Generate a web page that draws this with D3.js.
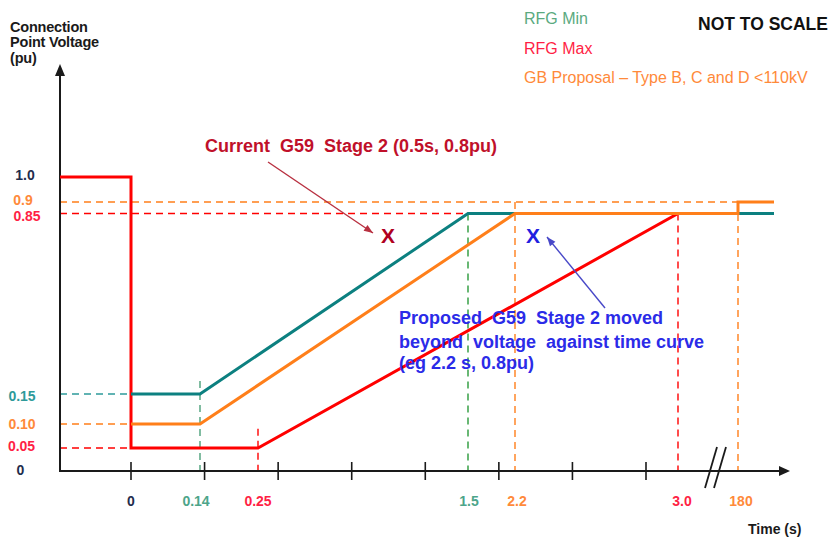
<!DOCTYPE html>
<html><head><meta charset="utf-8">
<script src="https://cdn.jsdelivr.net/npm/d3@7"></script>
<style>body{margin:0;background:#fff}svg{display:block}text{font-family:"Liberation Sans",Arial,sans-serif}</style>
</head><body><svg id="c" width="834" height="538"></svg>
<script>
// ---------------- data ----------------
const T_START = -0.2;   // axis origin (pre-fault)
const T_END = 200;      // right end of curves (beyond 180 s)
const timeKnots = [T_START, 0, 0.14, 0.25, 1.5, 2.2, 3.0, 180, T_END];
const voltKnots = [0, 0.05, 0.10, 0.15, 0.85, 0.9, 1.0];

const rfgMaxTime = [T_START, 0, 0, 0.25, 3.0, 180];
const rfgMaxVolt = [1.0, 1.0, 0.05, 0.05, 0.85, 0.85];
const rfgMinTime = [0, 0.14, 1.5, T_END];
const rfgMinVolt = [0.15, 0.15, 0.85, 0.85];
const gbTime = [0, 0.14, 2.2, 180, 180, T_END];
const gbVolt = [0.10, 0.10, 0.85, 0.85, 0.9, 0.9];

const xTickTimes = [0, 0.14, 0.25, 1.5, 2.2, 3.0, 180];
const xTickLabels = ["0", "0.14", "0.25", "1.5", "2.2", "3.0", "180"];
const yTickValues = [1.0, 0.9, 0.85, 0.15, 0.10, 0.05, 0];
const yTickLabels = ["1.0", "0.9", "0.85", "0.15", "0.10", "0.05", "0"];

const hRefVolt = [0.9, 0.85, 0.15, 0.10, 0.05];
const hRefEnd = [180, 1.5, 0, 0, 0];
const vRefTime = [0.14, 0.25, 1.5, 2.2, 3.0, 180];
const vRefTop = [0.2, 0.09, 0.85, 0.9, 0.85, 0.9];

const legendLabels = ["RFG Min", "RFG Max", "GB Proposal \u2013 Type B, C and D <110kV"];

// ---------------- layout / style ----------------
const C = {red: "#FF0000", teal: "#0C8080", orange: "#FF7F1A", green1: "#4CA07A", green2: "#2A9A3A",
  dark: "#1a1a1a", navy: "#1F2D4D", redTxt: "#FF1F45", orangeTxt: "#FF8A3A", tealTxt: "#2E9A9A", greenTxt: "#4DA58A"};
const xScale = d3.scaleLinear().domain(timeKnots).range([60, 131, 200, 258, 468, 515, 678, 738, 774]);
const yScale = d3.scaleLinear().domain(voltKnots).range([471, 448, 424, 394, 213.5, 202, 177]);

const svg = d3.select("#c");
svg.append("rect").attr("width", 834).attr("height", 538).attr("fill", "#fff");

// dashed reference lines
const hRefColor = [C.orange, C.red, C.tealTxt, C.orange, C.red];
hRefVolt.forEach((v, i) => {
  svg.append("line").attr("x1", xScale(T_START)).attr("x2", xScale(hRefEnd[i]))
    .attr("y1", yScale(v)).attr("y2", yScale(v))
    .attr("stroke", hRefColor[i]).attr("stroke-width", 1.4).attr("stroke-dasharray", "7,5");
});
const vRefColor = [C.green1, C.red, C.green2, C.orange, C.red, C.orange];
vRefTime.forEach((t, i) => {
  svg.append("line").attr("x1", xScale(t)).attr("x2", xScale(t))
    .attr("y1", yScale(vRefTop[i])).attr("y2", i === 0 ? yScale(0) + 6 : yScale(0))
    .attr("stroke", vRefColor[i]).attr("stroke-width", 1.4).attr("stroke-dasharray", "7,5");
});

// axes
const axisG = svg.append("g");
axisG.append("line").attr("x1", 60).attr("x2", 60).attr("y1", yScale(0)).attr("y2", 72)
  .attr("stroke", C.dark).attr("stroke-width", 2);
axisG.append("path").attr("d", "M60,64 L55,76 L65,76 Z").attr("fill", C.dark);
axisG.append("line").attr("x1", 59).attr("x2", 782).attr("y1", yScale(0)).attr("y2", yScale(0))
  .attr("stroke", C.dark).attr("stroke-width", 2);
axisG.append("path").attr("d", `M790,${yScale(0)} L779,${yScale(0) - 5} L779,${yScale(0) + 5} Z`).attr("fill", C.dark);
const tickScale = d3.scaleLinear().domain([0, 7]).range([131, 646]);
d3.range(8).forEach(i => {
  axisG.append("line").attr("x1", tickScale(i)).attr("x2", tickScale(i))
    .attr("y1", yScale(0) - 9).attr("y2", yScale(0) + 9).attr("stroke", C.dark).attr("stroke-width", 1.6);
});
// axis break marks
[[705, 717], [714, 726]].forEach(([a, b]) => {
  axisG.append("line").attr("x1", a).attr("y1", 488).attr("x2", b).attr("y2", 447)
    .attr("stroke", C.dark).attr("stroke-width", 1.8);
});

// curves
const line = d3.line().x(d => xScale(d[0])).y(d => yScale(d[1]));
[[rfgMaxTime, rfgMaxVolt, C.red], [rfgMinTime, rfgMinVolt, C.teal], [gbTime, gbVolt, C.orange]]
  .forEach(([t, v, col]) => {
    svg.append("path").attr("d", line(d3.zip(t, v))).attr("fill", "none")
      .attr("stroke", col).attr("stroke-width", 3).attr("stroke-linejoin", "miter");
  });

// y tick labels
const yLabColor = [C.navy, C.orangeTxt, C.redTxt, C.tealTxt, C.orangeTxt, C.redTxt, C.navy];
const yLabDy = [3, 3, 7, 6.5, 5, 2.7, 4];
const yLabX = [25, 23, 27, 22, 22, 21.5, 20.5];
yTickValues.forEach((v, i) => {
  svg.append("text").attr("x", yLabX[i]).attr("y", yScale(v) + yLabDy[i]).attr("text-anchor", "middle")
    .attr("font-size", 14).attr("font-weight", "bold").attr("fill", yLabColor[i]).text(yTickLabels[i]);
});
// x tick labels
const xLabColor = [C.navy, C.greenTxt, C.redTxt, C.greenTxt, C.orangeTxt, C.redTxt, C.orangeTxt];
const xLabDx = [0, -4, 0, 1, 2, 4, 3];
xTickTimes.forEach((t, i) => {
  svg.append("text").attr("x", xScale(t) + xLabDx[i]).attr("y", 506).attr("text-anchor", "middle")
    .attr("font-size", 14).attr("font-weight", "bold").attr("fill", xLabColor[i]).text(xTickLabels[i]);
});

// axis titles
["Connection", "Point Voltage", "(pu)"].forEach((s, i) => {
  svg.append("text").attr("x", 10).attr("y", [32, 47, 63][i]).attr("font-size", 14.5)
    .attr("font-weight", "bold").attr("fill", C.dark).attr("letter-spacing", -0.2).text(s);
});
svg.append("text").attr("x", 748).attr("y", 534).attr("font-size", 14).attr("font-weight", "bold")
  .attr("fill", C.dark).text("Time (s)");

// legend
const legColor = ["#5BAA80", C.redTxt, C.orangeTxt];
legendLabels.forEach((s, i) => {
  svg.append("text").attr("x", 524).attr("y", [24, 54, 83][i]).attr("font-size", 16)
    .attr("fill", legColor[i]).text(s);
});
svg.append("text").attr("x", 698).attr("y", 30).attr("font-size", 17.5).attr("font-weight", "bold")
  .attr("fill", "#111").text("NOT TO SCALE");

// annotations
function arrow(x1, y1, x2, y2, col) {
  svg.append("line").attr("x1", x1).attr("y1", y1).attr("x2", x2).attr("y2", y2)
    .attr("stroke", col).attr("stroke-width", 1.4);
  const a = Math.atan2(y2 - y1, x2 - x1), L = 9, W = 3.5;
  const bx = x2 - L * Math.cos(a), by = y2 - L * Math.sin(a);
  const px = -Math.sin(a) * W, py = Math.cos(a) * W;
  svg.append("path").attr("d", `M${x2},${y2} L${bx + px},${by + py} L${bx - px},${by - py} Z`).attr("fill", col);
}
svg.append("text").attr("x", 205).attr("y", 152).attr("font-size", 18).attr("font-weight", "bold")
  .attr("fill", "#C0102A").style("white-space", "pre").text("Current  G59  Stage 2 (0.5s, 0.8pu)");
arrow(268, 162, 373, 233, "#B83040");
svg.append("text").attr("x", 388).attr("y", 243).attr("text-anchor", "middle").attr("font-size", 21)
  .attr("font-weight", "bold").attr("fill", "#B00020").text("X");
svg.append("text").attr("x", 533).attr("y", 243).attr("text-anchor", "middle").attr("font-size", 21)
  .attr("font-weight", "bold").attr("fill", "#2020E0").text("X");
arrow(605, 308, 547, 237, "#4848C8");
["Proposed  G59  Stage 2 moved", "beyond  voltage  against time curve", "(eg 2.2 s, 0.8pu)"].forEach((s, i) => {
  svg.append("text").attr("x", 399).attr("y", [324, 348, 369][i]).attr("font-size", 18)
    .attr("font-weight", "bold").attr("fill", "#2B2BE8").style("white-space", "pre").text(s);
});
</script></body></html>
